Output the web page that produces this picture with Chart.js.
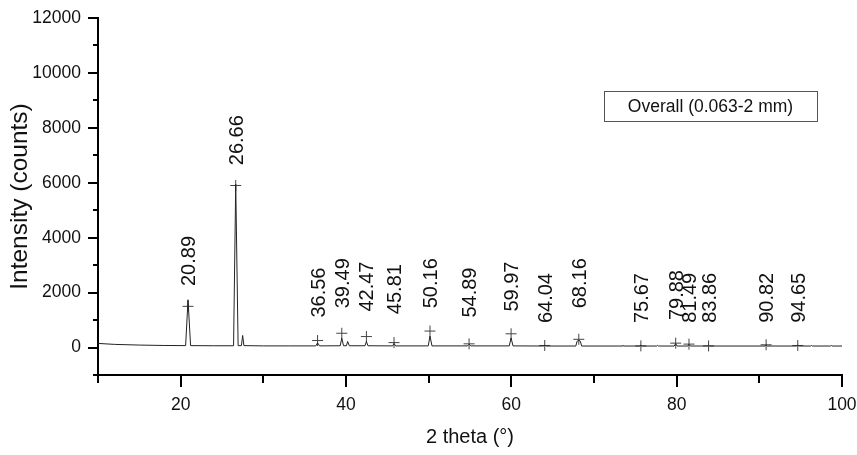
<!DOCTYPE html>
<html>
<head>
<meta charset="utf-8">
<script src="https://cdn.jsdelivr.net/npm/chart.js@4.4.0/dist/chart.umd.min.js"></script>
<style>
  html, body { margin: 0; padding: 0; background: #fff; }
  #wrap { width: 857px; height: 455px; position: relative; }
</style>
</head>
<body>
<div id="wrap"><canvas id="xrd"></canvas></div>
<script>
// XRD trace (2 theta in degrees, intensity in counts)
const traceTheta = [10, 12, 15, 18, 20.6, 20.89, 21.2, 24, 26.4, 26.66, 26.95, 27.35, 27.5, 27.65, 30, 33,
  36.35, 36.56, 36.8, 39.3, 39.49, 39.7, 40.05, 40.2, 40.4, 42.3, 42.47, 42.65, 45.65, 45.81, 46.0,
  49.95, 50.16, 50.4, 54.7, 54.89, 55.1, 59.75, 59.97, 60.2, 63.9, 64.04, 64.2, 67.8, 67.95, 68.16, 68.35, 68.5,
  73.4, 73.5, 73.6, 75.55, 75.67, 75.8, 77.6, 77.7, 77.8, 79.7, 79.88, 80.05, 81.35, 81.49, 81.65,
  83.7, 83.86, 84.0, 90.7, 90.82, 90.95, 94.5, 94.65, 94.8, 96.2, 96.3, 96.4, 98.6, 98.7, 98.8, 100];
const traceCounts = [150, 115, 90, 75, 70, 1740, 70, 65, 65, 5950, 70, 70, 440, 70, 60, 60,
  60, 170, 60, 65, 340, 65, 65, 220, 65, 65, 220, 65, 60, 150, 60,
  60, 420, 60, 60, 120, 60, 60, 350, 60, 55, 80, 55, 55, 230, 260, 230, 55,
  55, 80, 55, 55, 90, 55, 55, 80, 55, 55, 140, 55, 55, 120, 55,
  55, 80, 55, 55, 90, 55, 55, 85, 55, 55, 75, 55, 55, 75, 55, 55];

// peak markers (+) and where their labels sit (counts)
const peakTheta = [20.89, 26.66, 36.56, 39.49, 42.47, 45.81, 50.16, 54.89, 59.97, 64.04, 68.16, 75.67, 79.88, 81.49, 83.86, 90.82, 94.65];
const peakCounts = [1500, 5900, 255, 520, 400, 180, 600, 135, 500, 75, 300, 60, 160, 125, 60, 100, 75];
const labelCounts = [2240, 6640, 1090, 1430, 1310, 1215, 1430, 1090, 1310, 890, 1430, 890, 1000, 900, 900, 900, 900];

// axes
const xLabelTicks = [20, 40, 60, 80, 100];
const xMinorTicks = [10, 30, 50, 70, 90];
const yLabelTicks = [0, 2000, 4000, 6000, 8000, 10000, 12000];
const yMinorTicks = [-1000, 1000, 3000, 5000, 7000, 9000, 11000];
const legendText = 'Overall (0.063-2 mm)';

const FONT = '"Liberation Sans", Arial, sans-serif';

// tick marks drawn outward, longer for labelled ticks
const axisTicks = {
  id: 'axisTicks',
  afterDraw(chart) {
    const { ctx, scales: { x, y } } = chart;
    ctx.save();
    ctx.strokeStyle = '#000';
    ctx.lineWidth = 2;
    ctx.beginPath();
    xLabelTicks.concat(xMinorTicks).forEach(v => {
      const px = Math.round(x.getPixelForValue(v));
      const len = xLabelTicks.includes(v) ? 12 : 8;
      ctx.moveTo(px, y.bottom);
      ctx.lineTo(px, y.bottom + len);
    });
    yLabelTicks.concat(yMinorTicks).forEach(v => {
      const py = Math.round(y.getPixelForValue(v));
      const len = yLabelTicks.includes(v) ? 10 : 5;
      ctx.moveTo(x.left, py);
      ctx.lineTo(x.left - len, py);
    });
    ctx.stroke();
    ctx.restore();
  }
};

// rotated peak position labels + legend box
const annotations = {
  id: 'annotations',
  afterDatasetsDraw(chart) {
    const { ctx, chartArea, scales: { x, y } } = chart;
    ctx.save();
    ctx.font = '20px ' + FONT;
    ctx.fillStyle = '#111';
    ctx.textAlign = 'left';
    ctx.textBaseline = 'alphabetic';
    peakTheta.forEach((t, i) => {
      ctx.save();
      ctx.translate(x.getPixelForValue(t), y.getPixelForValue(labelCounts[i]));
      ctx.rotate(-Math.PI / 2);
      ctx.fillText(t.toFixed(2), 0, 7);
      ctx.restore();
    });

    // legend box
    const bx = chartArea.right - 238, by = chartArea.top + 73, bw = 213, bh = 30;
    ctx.strokeStyle = '#555';
    ctx.lineWidth = 1;
    ctx.strokeRect(bx + 0.5, by + 0.5, bw, bh);
    ctx.font = '17.5px ' + FONT;
    ctx.textAlign = 'center';
    ctx.textBaseline = 'middle';
    ctx.fillText(legendText, bx + bw / 2, by + bh / 2 + 1);
    ctx.restore();
  }
};

new Chart(document.getElementById('xrd'), {
  type: 'scatter',
  data: {
    datasets: [
      {
        type: 'line',
        label: 'trace',
        data: traceTheta.map((t, i) => ({ x: t, y: traceCounts[i] })),
        borderColor: '#222',
        borderWidth: 1,
        pointRadius: 0,
        tension: 0
      },
      {
        label: 'peaks',
        data: peakTheta.map((t, i) => ({ x: t, y: peakCounts[i] })),
        pointStyle: 'cross',
        pointRadius: 5.5,
        borderColor: '#444',
        borderWidth: 1,
        backgroundColor: '#444'
      }
    ]
  },
  options: {
    responsive: true,
    maintainAspectRatio: false,
    animation: false,
    layout: { padding: { top: 18, right: 15, bottom: 0, left: 0 } },
    plugins: { legend: { display: false }, tooltip: { enabled: false } },
    scales: {
      x: {
        type: 'linear',
        min: 10,
        max: 100,
        afterBuildTicks: s => { s.ticks = xLabelTicks.map(v => ({ value: v })); },
        afterFit: s => { s.height = 80; s.paddingLeft = 0; s.paddingRight = 0; },
        grid: { display: true, drawOnChartArea: false, drawTicks: false },
        border: { display: true, color: '#000', width: 2 },
        ticks: { color: '#111', padding: 20, font: { family: FONT, size: 17.5 }, callback: v => String(v) },
        title: { display: true, text: '2 theta (°)', color: '#111', padding: { top: 0, bottom: 6 }, font: { family: FONT, size: 20 } }
      },
      y: {
        type: 'linear',
        min: -1000,
        max: 12000,
        afterBuildTicks: s => { s.ticks = yLabelTicks.map(v => ({ value: v })); },
        afterFit: s => { s.width = 98; s.paddingTop = 0; s.paddingBottom = 0; },
        grid: { display: true, drawOnChartArea: false, drawTicks: false },
        border: { display: true, color: '#000', width: 2 },
        ticks: { color: '#111', padding: 17, font: { family: FONT, size: 17.5 }, callback: v => String(v) },
        title: { display: true, text: 'Intensity (counts)', color: '#111', padding: { top: 6, bottom: 0 }, font: { family: FONT, size: 24.5 } }
      }
    }
  },
  plugins: [axisTicks, annotations]
});
</script>
</body>
</html>
